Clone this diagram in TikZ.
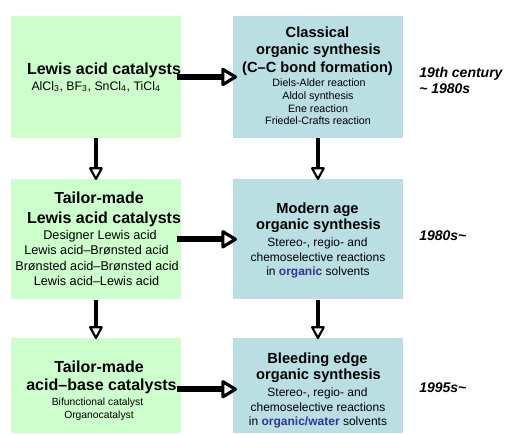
\documentclass[tikz,border=0pt]{standalone}
\usepackage{fontspec}
\setmainfont{Liberation Sans}
\usetikzlibrary{arrows.meta}
\definecolor{boxgreen}{HTML}{CCFFCC}
\definecolor{boxblue}{HTML}{B9DFE3}
\definecolor{textblue}{HTML}{333399}
\tikzset{
  px/.style={x=0.75pt,y=-0.75pt},
  gbox/.style={fill=boxgreen,draw=none,inner sep=0pt,minimum width=127pt,anchor=north west},
  bbox/.style={fill=boxblue,draw=none,inner sep=0pt,minimum width=127pt,anchor=north west},
  ln/.style={anchor=base,inner sep=0pt,text=black},
  ltitle/.style={ln,font=\fontsize{12}{15}\selectfont\bfseries},
  rtitle/.style={ln,font=\fontsize{11}{13}\selectfont\bfseries},
  lbody/.style={ln,font=\fontsize{9.5}{11.6}\selectfont},
  rbody/.style={ln,font=\fontsize{9}{11}\selectfont},
  rbodys/.style={ln,font=\fontsize{8}{10}\selectfont},
  lbodys/.style={ln,font=\fontsize{7.75}{10}\selectfont},
  era/.style={anchor=base west,inner sep=0pt,font=\fontsize{10.5}{12}\selectfont\bfseries\itshape},
  harrow/.style={line width=4.5pt,-{Triangle[open,round,fill=white,length=13pt,width=15pt,line width=2.4pt]}},
  varrow/.style={line width=3pt,-{Triangle[open,round,fill=white,length=10.5pt,width=11pt,line width=1.6pt]}},
}
\begin{document}
\begin{tikzpicture}[px]
\useasboundingbox (0,0) rectangle (506,433);
% boxes
\node[gbox,minimum height=91pt] (L1) at (11,16) {};
\node[gbox,minimum height=90pt] (L2) at (11,179) {};
\node[gbox,minimum height=71.25pt] (L3) at (11,338) {};
\node[bbox,minimum height=91pt] (R1) at (233,16) {};
\node[bbox,minimum height=90pt] (R2) at (233,179) {};
\node[bbox,minimum height=71.25pt] (R3) at (233,338) {};
% box L1
\node[ltitle] (l1a) at (104,74) {Lewis acid catalysts};
\node[ln,font=\fontsize{9.25}{12}\selectfont] (l1b) at (96,90) {AlCl\textsubscript{3}, BF\textsubscript{3}, SnCl\textsubscript{4}, TiCl\textsubscript{4}};
% box R1
\node[rtitle] (r1a) at (317.5,37) {Classical};
\node[rtitle] (r1b) at (318.5,54.5) {organic synthesis};
\node[rtitle] (r1c) at (317.5,72) {(C–C bond formation)};
\node[rbodys] (r1d) at (319,86) {Diels-Alder reaction};
\node[rbodys] (r1e) at (318,99) {Aldol synthesis};
\node[rbodys] (r1f) at (318,112) {Ene reaction};
\node[rbodys] (r1g) at (318,124) {Friedel-Crafts reaction};
% box L2
\node[ltitle] (l2a) at (99,203) {Tailor-made};
\node[ltitle] (l2b) at (104,223) {Lewis acid catalysts};
\node[lbody] (l2c) at (100,239) {Designer Lewis acid};
\node[lbody] (l2d) at (96.5,254) {Lewis acid–Brønsted acid};
\node[lbody] (l2e) at (97,270) {Brønsted acid–Brønsted acid};
\node[lbody] (l2f) at (96.5,285) {Lewis acid–Lewis acid};
% box R2
\node[rtitle] (r2a) at (317.5,213) {Modern age};
\node[rtitle] (r2b) at (318.5,229) {organic synthesis};
\node[rbody] (r2c) at (317.5,246) {Stereo-, regio- and};
\node[rbody] (r2d) at (318,261) {chemoselective reactions};
\node[rbody] (r2e) at (318,275) {in {\color{textblue}\bfseries organic} solvents};
% box L3
\node[ltitle] (l3a) at (99,372) {Tailor-made};
\node[ltitle] (l3b) at (101.5,390) {acid–base catalysts};
\node[lbodys] (l3c) at (97.5,405) {Bifunctional catalyst};
\node[lbodys] (l3d) at (99,418) {Organocatalyst};
% box R3
\node[rtitle] (r3a) at (317.5,363) {Bleeding edge};
\node[rtitle] (r3b) at (318.5,379) {organic synthesis};
\node[rbody] (r3c) at (317.5,396) {Stereo-, regio- and};
\node[rbody] (r3d) at (318,411) {chemoselective reactions};
\node[rbody] (r3e) at (318,425) {in {\color{textblue}\bfseries organic/water} solvents};
% era labels
\node[era] (e1a) at (419,77) {19th century};
\node[era] (e1b) at (419,93) {\textasciitilde{} 1980s};
\node[era] (e2) at (419,240) {1980s\textasciitilde};
\node[era] (e3) at (419,392) {1995s\textasciitilde};
% arrows
\draw[harrow,shorten <=-3pt,shorten >=-3pt] (L1.east) -- (R1.west);
\draw[harrow,shorten <=-3pt,shorten >=-3pt] (L2.east) -- (R2.west);
\draw[harrow,shorten <=-3pt,shorten >=-3pt] ([yshift=-2.6pt]L3.east) -- ([yshift=-2.6pt]R3.west);
\draw[varrow,shorten >=-0.75pt] (L1.south) -- (L2.north);
\draw[varrow,shorten >=-0.75pt] (L2.south) -- (L3.north);
\draw[varrow,shorten >=-0.75pt] (R1.south) -- (R2.north);
\draw[varrow,shorten >=-0.75pt] (R2.south) -- (R3.north);
\end{tikzpicture}
\end{document}
